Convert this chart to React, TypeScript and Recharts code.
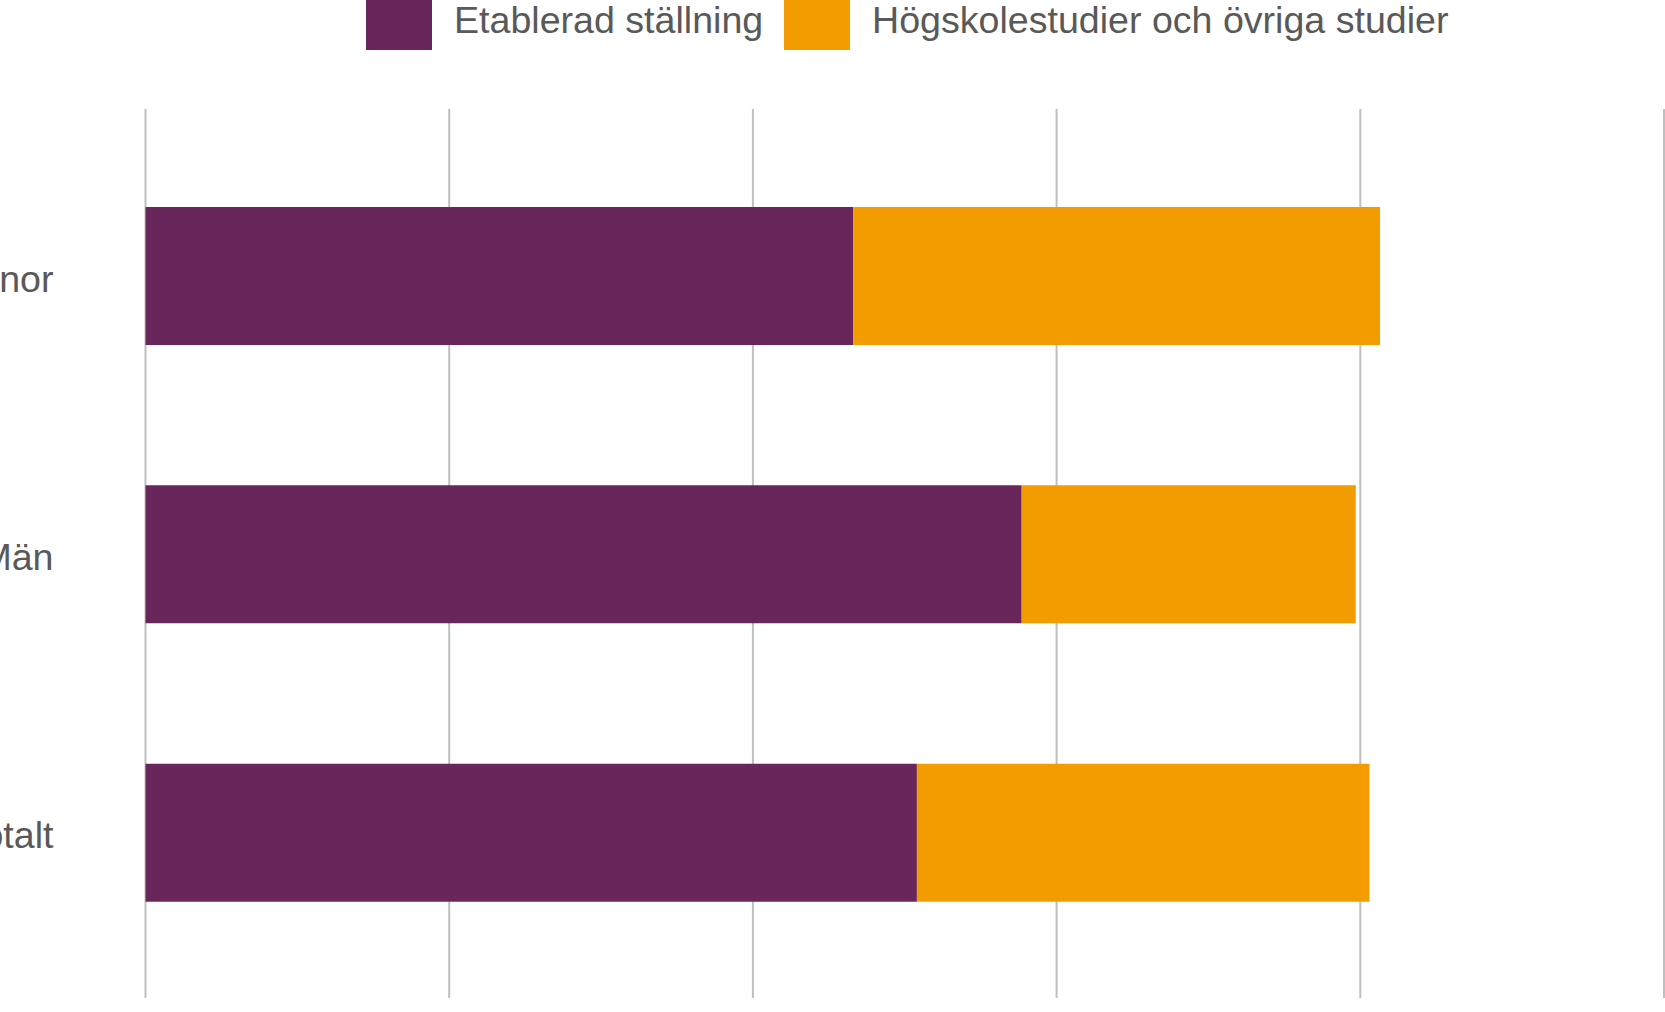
import React from "react";
import { BarChart, Bar, XAxis, YAxis, CartesianGrid } from "recharts";

const categories = ["Kvinnor", "Män", "Totalt"];
const etablerad = [46.6, 57.7, 50.8];
const studier = [34.7, 22.0, 29.8];
const xTicks = [0, 20, 40, 60, 80, 100];

const seriesNames = ["Etablerad ställning", "Högskolestudier och övriga studier"];
const seriesColors = ["#68265a", "#f39c00"];

const data = categories.map((name, i) => ({
  name,
  etablerad: etablerad[i],
  studier: studier[i],
}));

const FONT = '"Liberation Sans", Arial, sans-serif';
const TEXT = "#595959";

const LegendBox: React.FC = () => {
  const items = [
    { swatch: 366, text: 454 },
    { swatch: 784, text: 872 },
  ];
  return (
    <>
      {items.map((it, i) => (
        <React.Fragment key={seriesNames[i]}>
          <div
            style={{
              position: "absolute",
              left: it.swatch,
              top: -16,
              width: 66,
              height: 66,
              background: seriesColors[i],
            }}
          />
          <div
            style={{
              position: "absolute",
              left: it.text,
              top: -2,
              fontFamily: FONT,
              fontSize: 37.6,
              lineHeight: "44px",
              color: TEXT,
              whiteSpace: "nowrap",
            }}
          >
            {seriesNames[i]}
          </div>
        </React.Fragment>
      ))}
    </>
  );
};

const App: React.FC = () => {
  return (
    <div
      style={{
        position: "absolute",
        left: 0,
        top: 0,
        width: 1665,
        height: 1012,
        overflow: "hidden",
        background: "#fff",
      }}
    >
      <BarChart
        width={1665}
        height={1012}
        data={data}
        layout="vertical"
        margin={{ top: 109, right: 1, bottom: 14, left: 0 }}
      >
        <CartesianGrid horizontal={false} stroke="#bfbfbf" strokeWidth={2} />
        <XAxis type="number" domain={[0, 100]} ticks={xTicks} hide />
        <YAxis
          type="category"
          dataKey="name"
          width={145.5}
          axisLine={false}
          tickLine={false}
          tickSize={0}
          tickMargin={92}
          padding={{ top: 28, bottom: 26 }}
          tick={{ fill: TEXT, fontSize: 37.6, fontFamily: FONT, dy: 2 }}
        />
        <Bar
          dataKey="etablerad"
          stackId="a"
          fill={seriesColors[0]}
          barSize={138}
          isAnimationActive={false}
        />
        <Bar
          dataKey="studier"
          stackId="a"
          fill={seriesColors[1]}
          barSize={138}
          isAnimationActive={false}
        />
      </BarChart>
      <LegendBox />
    </div>
  );
};

export default App;
